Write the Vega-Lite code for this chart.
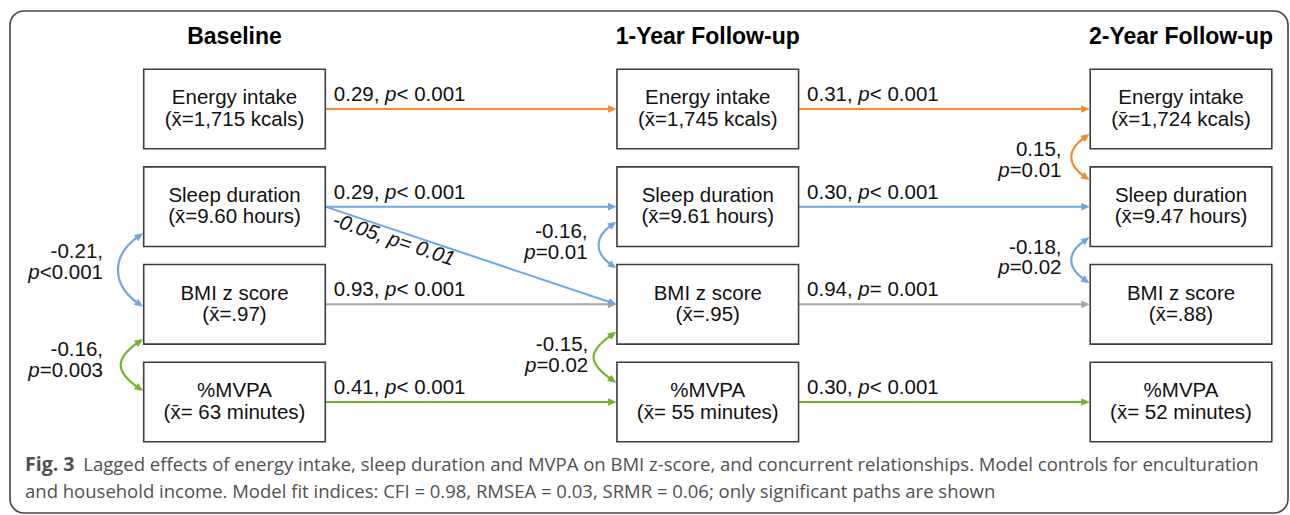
{
  "$schema": "https://vega.github.io/schema/vega-lite/v6.json",
  "width": 1278,
  "height": 502,
  "padding": {"left": 10, "top": 11, "right": 2, "bottom": 2},
  "autosize": {"type": "none"},
  "background": "white",
  "config": {
    "view": {"stroke": "#444444", "strokeWidth": 1.6, "cornerRadius": 14},
    "axis": {"disable": true},
    "legend": {"disable": true},
    "text": {"font": "Liberation Sans", "fontSize": 20.5, "baseline": "alphabetic", "color": "#111111"}
  },
  "datasets": {
    "nodes": [
      {"col": 0, "row": 0, "time": "Baseline", "label": ["Energy intake", "(x\u0304=1,715 kcals)"]},
      {"col": 0, "row": 1, "time": "Baseline", "label": ["Sleep duration", "(x\u0304=9.60 hours)"]},
      {"col": 0, "row": 2, "time": "Baseline", "label": ["BMI z score", "(x\u0304=.97)"]},
      {"col": 0, "row": 3, "time": "Baseline", "label": ["%MVPA", "(x\u0304= 63 minutes)"]},
      {"col": 1, "row": 0, "time": "1-Year Follow-up", "label": ["Energy intake", "(x\u0304=1,745 kcals)"]},
      {"col": 1, "row": 1, "time": "1-Year Follow-up", "label": ["Sleep duration", "(x\u0304=9.61 hours)"]},
      {"col": 1, "row": 2, "time": "1-Year Follow-up", "label": ["BMI z score", "(x\u0304=.95)"]},
      {"col": 1, "row": 3, "time": "1-Year Follow-up", "label": ["%MVPA", "(x\u0304= 55 minutes)"]},
      {"col": 2, "row": 0, "time": "2-Year Follow-up", "label": ["Energy intake", "(x\u0304=1,724 kcals)"]},
      {"col": 2, "row": 1, "time": "2-Year Follow-up", "label": ["Sleep duration", "(x\u0304=9.47 hours)"]},
      {"col": 2, "row": 2, "time": "2-Year Follow-up", "label": ["BMI z score", "(x\u0304=.88)"]},
      {"col": 2, "row": 3, "time": "2-Year Follow-up", "label": ["%MVPA", "(x\u0304= 52 minutes)"]}
    ],
    "paths": [
      {"var": "Energy intake", "row": 0, "col": 0, "toCol": 1, "coef": "0.29,", "rest": "< 0.001"},
      {"var": "Energy intake", "row": 0, "col": 1, "toCol": 2, "coef": "0.31,", "rest": "< 0.001"},
      {"var": "Sleep duration", "row": 1, "col": 0, "toCol": 1, "coef": "0.29,", "rest": "< 0.001"},
      {"var": "Sleep duration", "row": 1, "col": 1, "toCol": 2, "coef": "0.30,", "rest": "< 0.001"},
      {"var": "BMI z score", "row": 2, "col": 0, "toCol": 1, "coef": "0.93,", "rest": "< 0.001"},
      {"var": "BMI z score", "row": 2, "col": 1, "toCol": 2, "coef": "0.94,", "rest": "= 0.001"},
      {"var": "%MVPA", "row": 3, "col": 0, "toCol": 1, "coef": "0.41,", "rest": "< 0.001"},
      {"var": "%MVPA", "row": 3, "col": 1, "toCol": 2, "coef": "0.30,", "rest": "< 0.001"}
    ],
    "cross": [
      {"var": "Sleep duration", "col": 0, "row": 1, "toCol": 1, "toRow": 2, "label": "-0.05, p= 0.01"}
    ],
    "covs": [
      {"id": "Baseline: sleep-BMI", "col": 0, "row": 1, "var": "Sleep duration", "lab": ["-0.21,", "<0.001"]},
      {"id": "Baseline: BMI-MVPA", "col": 0, "row": 2, "var": "%MVPA", "lab": ["-0.16,", "=0.003"]},
      {"id": "1-Year: sleep-BMI", "col": 1, "row": 1, "var": "Sleep duration", "lab": ["-0.16,", "=0.01"]},
      {"id": "1-Year: BMI-MVPA", "col": 1, "row": 2, "var": "%MVPA", "lab": ["-0.15,", "=0.02"]},
      {"id": "2-Year: energy-sleep", "col": 2, "row": 0, "var": "Energy intake", "lab": ["0.15,", "=0.01"]},
      {"id": "2-Year: sleep-BMI", "col": 2, "row": 1, "var": "Sleep duration", "lab": ["-0.18,", "=0.02"]}
    ]
  },
  "encoding": {
    "x": {"field": "col", "type": "quantitative", "axis": null, "scale": {"type": "linear", "domain": [-0.47438, 2.22609], "nice": false, "zero": false}},
    "y": {"field": "row", "type": "quantitative", "axis": null, "scale": {"type": "linear", "domain": [-1.00341, 4.13652], "nice": false, "zero": false, "reverse": true}}
  },
  "layer": [
    {
      "data": {"name": "paths"},
      "mark": {"type": "rule", "strokeWidth": 2, "xOffset": 90.8, "x2Offset": -95},
      "encoding": {
        "x2": {"field": "toCol"},
        "color": {"field": "var", "type": "nominal", "legend": null, "scale": {"domain": ["Energy intake", "Sleep duration", "BMI z score", "%MVPA"], "range": ["#F5882A", "#70A6D9", "#A6A6A6", "#76B22C"]}}
      }
    },
    {
      "data": {"name": "cross"},
      "mark": {"type": "rule", "strokeWidth": 2, "xOffset": 90.8, "x2Offset": -96, "y2Offset": -1.6},
      "encoding": {
        "x2": {"field": "toCol"},
        "y2": {"field": "toRow"},
        "color": {"field": "var", "type": "nominal", "legend": null}
      }
    },
    {
      "data": {"name": "nodes"},
      "mark": {"type": "rect", "fill": "white", "stroke": "#3d3d3d", "strokeWidth": 1.6, "xOffset": -90.8, "x2Offset": 90.8, "yOffset": -39.8, "y2Offset": 39.8},
      "encoding": {
        "x2": {"field": "col"},
        "y2": {"field": "row"}
      }
    },
    {
      "data": {"name": "paths"},
      "mark": {"type": "point", "shape": "M0,0L-8.5,-3.8L-8.5,3.8Z", "size": 4, "filled": true, "opacity": 1, "strokeWidth": 0, "xOffset": -91.3},
      "encoding": {
        "x": {"field": "toCol", "type": "quantitative", "axis": null},
        "color": {"field": "var", "type": "nominal", "legend": null}
      }
    },
    {
      "data": {"name": "cross"},
      "mark": {"type": "point", "shape": "M0,0L-8.5,-3.8L-8.5,3.8Z", "size": 4, "filled": true, "opacity": 1, "strokeWidth": 0, "xOffset": -91.3, "angle": 18.55},
      "encoding": {
        "x": {"field": "toCol", "type": "quantitative", "axis": null},
        "y": {"field": "toRow", "type": "quantitative", "axis": null},
        "color": {"field": "var", "type": "nominal", "legend": null}
      }
    },
    {
      "data": {"name": "covs"},
      "mark": {"type": "point", "size": 4, "filled": false, "opacity": 1, "strokeWidth": 2.2},
      "encoding": {
        "shape": {"field": "id", "type": "nominal", "legend": null, "scale": {
          "domain": ["Baseline: sleep-BMI", "Baseline: BMI-MVPA", "1-Year: sleep-BMI", "1-Year: BMI-MVPA", "2-Year: energy-sleep", "2-Year: sleep-BMI"],
          "range": [
            "M-96.4,30C-123.2,48.8 -123.2,77.8 -96.4,96.6",
            "M-96.4,38.1C-119.6,54.3 -119.6,67.1 -96.4,83.3",
            "M-96.4,18.4C-113.5,30.4 -113.5,46.2 -96.4,58.2",
            "M-96.4,30.8C-120.1,47.4 -120.1,58.4 -96.4,75",
            "M-96.4,28.4C-114.3,40.9 -114.3,55.1 -96.4,67.6",
            "M-96.4,34C-114.3,46.5 -114.3,60.7 -96.4,73.2"
          ]}},
        "color": {"field": "var", "type": "nominal", "legend": null}
      }
    },
    {
      "data": {"name": "covs"},
      "mark": {"type": "point", "size": 4, "filled": true, "opacity": 1, "strokeWidth": 0},
      "encoding": {
        "shape": {"field": "id", "type": "nominal", "legend": null, "scale": {
          "domain": ["Baseline: sleep-BMI", "Baseline: BMI-MVPA", "1-Year: sleep-BMI", "1-Year: BMI-MVPA", "2-Year: energy-sleep", "2-Year: sleep-BMI"],
          "range": [
            "M-91.5,26.6L-96.3,34.6L-100.6,28.4ZM-91.5,100L-96.3,92L-100.6,98.2Z",
            "M-91.5,34.7L-96.3,42.7L-100.6,36.5ZM-91.5,86.7L-96.3,78.7L-100.6,84.9Z",
            "M-91.5,15L-96.3,23L-100.6,16.8ZM-91.5,61.6L-96.3,53.6L-100.6,59.8Z",
            "M-91.5,27.4L-96.3,35.4L-100.6,29.2ZM-91.5,78.4L-96.3,70.4L-100.6,76.6Z",
            "M-91.5,25L-96.3,33L-100.6,26.8ZM-91.5,71L-96.3,63L-100.6,69.2Z",
            "M-91.5,30.6L-96.3,38.6L-100.6,32.4ZM-91.5,76.6L-96.3,68.6L-100.6,74.8Z"
          ]}},
        "color": {"field": "var", "type": "nominal", "legend": null}
      }
    },
    {
      "data": {"name": "nodes"},
      "mark": {"type": "text", "align": "center", "dy": -4.6, "lineHeight": 21.2},
      "encoding": {"text": {"field": "label", "type": "nominal"}}
    },
    {
      "data": {"name": "paths"},
      "mark": {"type": "text", "align": "left", "dx": 99.3, "dy": -8},
      "encoding": {"text": {"field": "coef", "type": "nominal"}}
    },
    {
      "data": {"name": "paths"},
      "mark": {"type": "text", "align": "left", "dx": 150.6, "dy": -8, "fontStyle": "italic", "text": "p"}
    },
    {
      "data": {"name": "paths"},
      "mark": {"type": "text", "align": "left", "dx": 162, "dy": -8},
      "encoding": {"text": {"field": "rest", "type": "nominal"}}
    },
    {
      "data": {"name": "cross"},
      "mark": {"type": "text", "align": "left", "fontStyle": "italic", "angle": 18.55, "dx": 98, "dy": -13},
      "encoding": {"text": {"field": "label", "type": "nominal"}}
    },
    {
      "data": {"name": "covs"},
      "transform": [{"filter": "datum.col == 0"}],
      "mark": {"type": "text", "align": "right", "dx": -131.5, "dy": 51.5, "lineHeight": 20.8},
      "encoding": {"text": {"field": "lab", "type": "nominal"}}
    },
    {
      "data": {"name": "covs"},
      "transform": [{"filter": "datum.col == 0"}],
      "mark": {"type": "text", "align": "right", "dx": -194.8, "dy": 72.3, "fontStyle": "italic", "text": "p"}
    },
    {
      "data": {"name": "covs"},
      "transform": [{"filter": "datum.col == 1 && datum.row == 1"}],
      "mark": {"type": "text", "align": "right", "dx": -120.2, "dy": 31.6, "lineHeight": 20.8},
      "encoding": {"text": {"field": "lab", "type": "nominal"}}
    },
    {
      "data": {"name": "covs"},
      "transform": [{"filter": "datum.col == 1 && datum.row == 1"}],
      "mark": {"type": "text", "align": "right", "dx": -172.1, "dy": 52.4, "fontStyle": "italic", "text": "p"}
    },
    {
      "data": {"name": "covs"},
      "transform": [{"filter": "datum.col > 0 && !(datum.col == 1 && datum.row == 1)"}],
      "mark": {"type": "text", "align": "right", "dx": -119.5, "dy": 47, "lineHeight": 20.8},
      "encoding": {"text": {"field": "lab", "type": "nominal"}}
    },
    {
      "data": {"name": "covs"},
      "transform": [{"filter": "datum.col > 0 && !(datum.col == 1 && datum.row == 1)"}],
      "mark": {"type": "text", "align": "right", "dx": -171.4, "dy": 67.8, "fontStyle": "italic", "text": "p"}
    },
    {
      "data": {"name": "nodes"},
      "transform": [{"filter": "datum.col == 0 && datum.row == 3"}],
      "mark": {"type": "text", "align": "left", "font": "Open Sans", "fontSize": 19.5, "fontWeight": "bold", "fill": "#505050", "dx": -209.5, "dy": 69, "text": "Fig. 3"}
    },
    {
      "data": {"name": "nodes"},
      "transform": [{"filter": "datum.col == 0 && datum.row == 3"}],
      "mark": {"type": "text", "align": "left", "font": "Open Sans", "fontSize": 18.5, "fill": "#505050", "dx": -151.2, "dy": 69, "text": "Lagged effects of energy intake, sleep duration and MVPA on BMI z-score, and concurrent relationships. Model controls for enculturation"}
    },
    {
      "data": {"name": "nodes"},
      "transform": [{"filter": "datum.col == 0 && datum.row == 3"}],
      "mark": {"type": "text", "align": "left", "font": "Open Sans", "fontSize": 18.5, "fill": "#505050", "dx": -209.5, "dy": 96, "text": "and household income. Model fit indices: CFI = 0.98, RMSEA = 0.03, SRMR = 0.06; only significant paths are shown"}
    },
    {
      "data": {"name": "nodes"},
      "transform": [{"filter": "datum.row == 0"}],
      "mark": {"type": "text", "align": "center", "fontSize": 23, "fontWeight": "bold", "dy": -65, "fill": "#000000"},
      "encoding": {"text": {"field": "time", "type": "nominal"}}
    }
  ],
  "resolve": {"scale": {"shape": "independent"}}
}
